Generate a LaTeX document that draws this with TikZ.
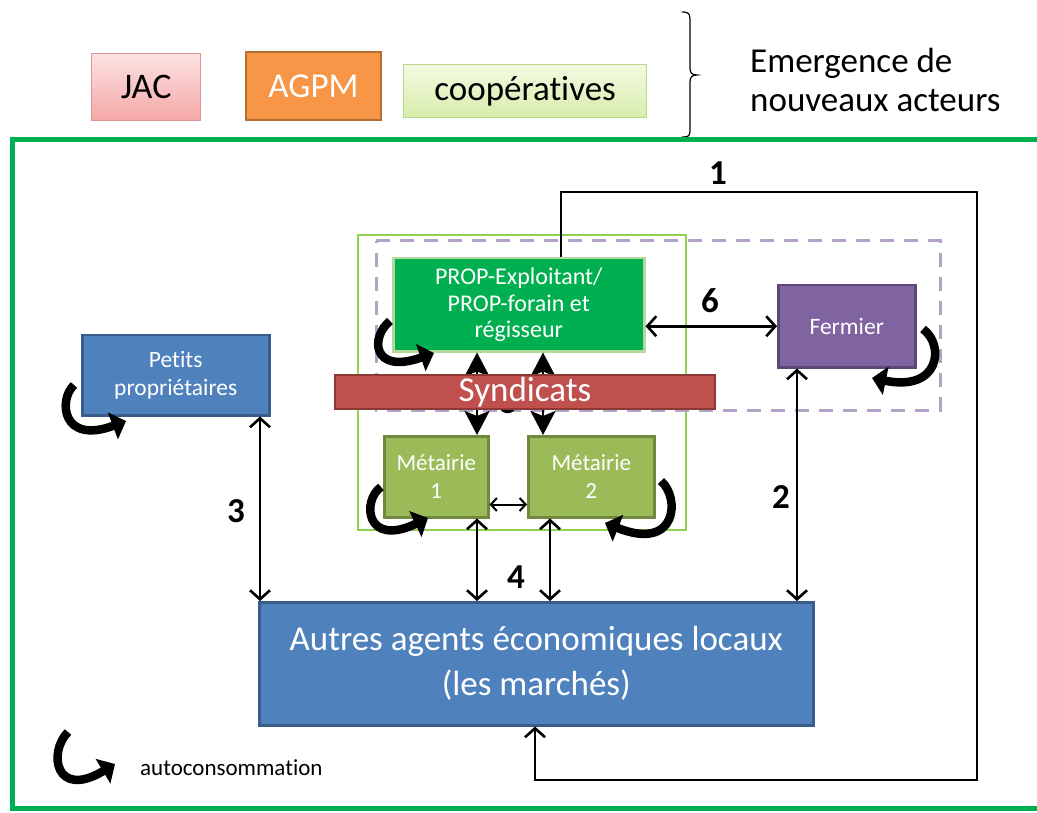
\documentclass[tikz,border=0pt]{standalone}
\usepackage{fontspec}
\setmainfont{Carlito}[Ligatures=NoCommon]
\usetikzlibrary{arrows.meta,calc}
\definecolor{gframe}{HTML}{00B050}
\definecolor{lgframe}{HTML}{92D050}
\definecolor{dpurple}{HTML}{B3A2C7}
\definecolor{propfill}{HTML}{00B050}
\definecolor{propdraw}{HTML}{B5D99C}
\definecolor{synfill}{HTML}{C0504D}
\definecolor{syndraw}{HTML}{8C3836}
\definecolor{metfill}{HTML}{9BBB59}
\definecolor{metdraw}{HTML}{71893F}
\definecolor{ferfill}{HTML}{8064A2}
\definecolor{ferdraw}{HTML}{5C4776}
\definecolor{bluefill}{HTML}{4F81BD}
\definecolor{bluedraw}{HTML}{385D8A}
\definecolor{agpmfill}{HTML}{F79646}
\definecolor{agpmdraw}{HTML}{B66D31}
\definecolor{jactop}{HTML}{FDE2E2}
\definecolor{jacbot}{HTML}{F4A7A7}
\definecolor{jacdraw}{HTML}{D99694}
\definecolor{cooptop}{HTML}{F4FAE2}
\definecolor{coopbot}{HTML}{D6ECAA}
\definecolor{coopdraw}{HTML}{B9D98A}
\tikzset{
  box/.style={rectangle, anchor=north west, inner sep=2pt, align=center, line width=2.5pt},
  dbl/.style={line width=2.6pt, {Straight Barb[length=9pt,width=20pt,line width=2.6pt]}-{Straight Barb[length=9pt,width=20pt,line width=2.6pt]}},
  dblbig/.style={line width=2.6pt, {Stealth[length=24pt,width=25pt,inset=5pt]}-{Stealth[length=24pt,width=25pt,inset=5pt]}},
  dblsmall/.style={line width=2pt, {Straight Barb[length=6pt,width=13pt,line width=2pt]}-{Straight Barb[length=6pt,width=13pt,line width=2pt]}},
  curl/.style={line width=8.5pt, -{Triangle[length=14pt,width=28pt]}},
  num/.style={font=\fontsize{35}{37}\selectfont\bfseries, inner sep=0pt},
}
\begin{document}
\begin{tikzpicture}[x=1pt,y=-1pt]
\useasboundingbox (0,0) rectangle (1037,813);
\fill[white] (0,0) rectangle (1037,813);

% top boxes
\node[box, draw=jacdraw, line width=1.2pt, top color=jactop, bottom color=jacbot, minimum width=109pt, minimum height=67pt, font=\fontsize{36}{38}\selectfont] (jac) at (91,53) {JAC};
\node[box, draw=agpmdraw, fill=agpmfill, line width=2pt, minimum width=135pt, minimum height=68pt, text=white, font=\fontsize{35}{37}\selectfont] (agpm) at (245,51) {AGPM};
\node[box, draw=coopdraw, line width=1.2pt, top color=cooptop, bottom color=coopbot, minimum width=243pt, minimum height=53pt, font=\fontsize{35}{37}\selectfont] (coop) at (403,64) {coopératives};

% brace
\draw[line width=1.2pt] (682,12) .. controls (689,12) and (690,14) .. (690,20) -- (690,68) .. controls (690,73) and (692,75) .. (697,75) .. controls (692,75) and (690,77) .. (690,82) -- (690,130) .. controls (690,136) and (689,137) .. (682,137);
\node[anchor=west, align=left, font=\fontsize{35}{39}\selectfont, inner sep=0pt] (emerg) at (750,80) {Emergence de\\nouveaux acteurs};

% green frame
\draw[gframe, line width=5pt] (1045,140) -- (12,140) -- (12,808) -- (1045,808);

% light green frame
\draw[lgframe, line width=2.5pt] (358,235) rectangle (686,530);
% dashed purple
\draw[dpurple, line width=3pt, dash pattern=on 14pt off 10pt] (376,241) -- (940,241) -- (940,410) -- (376,410) -- cycle;

% nodes
\node[box, draw=propdraw, fill=propfill, minimum width=251pt, minimum height=93pt, text=white, font=\fontsize{24}{26.5}\selectfont] (prop) at (392,257) {PROP-Exploitant/\\PROP-forain et\\régisseur};
\node[box, draw=ferdraw, fill=ferfill, minimum width=137pt, minimum height=82pt, text=white, font=\fontsize{23.5}{26}\selectfont] (fer) at (777,284) {Fermier};
\node[box, draw=bluedraw, fill=bluefill, minimum width=187pt, minimum height=80pt, text=white, font=\fontsize{23.5}{28}\selectfont] (petits) at (81,334) {Petits\\propriétaires};
\node[box, draw=metdraw, fill=metfill, minimum width=104pt, minimum height=81pt, text=white, font=\fontsize{23}{28}\selectfont] (met1) at (383,435) {Métairie\\1};
\node[box, draw=metdraw, fill=metfill, minimum width=126pt, minimum height=81pt, text=white, font=\fontsize{23}{28}\selectfont] (met2) at (527,435) {Métairie\\2};
\node[box, draw=bluedraw, fill=bluefill, minimum width=554pt, minimum height=123pt, text=white, font=\fontsize{35}{45}\selectfont] (autres) at (258,601) {Autres agents économiques locaux\\(les marchés)};

% coordinates for connector x positions
\coordinate (xa) at (477,0);
\coordinate (xb) at (543,0);
\coordinate (xc) at (477,0);
\coordinate (xd) at (550,0);
\coordinate (xp) at (260,0);
\coordinate (xf) at (797,0);
\coordinate (x1) at (561,0);
\coordinate (x1b) at (535,0);
\coordinate (y1) at (977,192);
\coordinate (y2) at (977,780);

% label 5 (mostly hidden behind syndicats)
\node[num] (l5) at (509,402) {5};

% syndicats arrows
\draw[dblbig] (prop.south -| xa) -- (met1.north -| xa);
\draw[dblbig] (prop.south -| xb) -- (met2.north -| xb);

% syndicats bar
\node[box, draw=syndraw, fill=synfill, line width=2pt, minimum width=380pt, minimum height=34pt, text=white, font=\fontsize{35}{36}\selectfont, inner sep=0pt] (syn) at (334,374) {Syndicats};

% arrow 1
\draw[line width=2.6pt, -{Straight Barb[length=9pt,width=20pt,line width=2.6pt]}] (prop.north -| x1) |- (y1) -- (y2) -| (autres.south -| x1b);
\node[num] (l1) at (718,173) {1};

% arrow 6
\draw[dbl] (prop.east |- fer.west) -- (fer.west);
\node[num] (l6) at (710,301) {6};

% metairie arrow
\draw[dblsmall] ($(met1.south east)+(0,-14)$) -- ($(met2.south west)+(0,-14)$);

% arrows 4
\draw[dbl] (met1.south -| xc) -- (autres.north -| xc);
\draw[dbl] (met2.south -| xd) -- (autres.north -| xd);
\node[num] (l4) at (516,577) {4};

% arrow 3
\draw[dbl] (petits.south -| xp) -- (autres.north -| xp);
\node[num] (l3) at (236,511) {3};

% arrow 2
\draw[dbl] (fer.south -| xf) -- (autres.north -| xf);
\node[num] (l2) at (781,497) {2};

% autoconsommation curls
\draw[curl] (390,321) .. controls (370,337) and (372,375) .. (434,353);
\draw[curl] (74,385) .. controls (58,400) and (62,445) .. (126,421);
\draw[curl] (923,329) .. controls (945,345) and (940,392) .. (872,378);
\draw[curl] (381,487) .. controls (362,500) and (365,548) .. (428,518);
\draw[curl] (661,481) .. controls (680,497) and (678,552) .. (605,523);
\draw[curl] (68,732) .. controls (48,752) and (55,800) .. (115,764);
\node[anchor=west, font=\fontsize{23}{25}\selectfont, inner sep=0pt] (legend) at (140,768) {autoconsommation};

\end{tikzpicture}
\end{document}
